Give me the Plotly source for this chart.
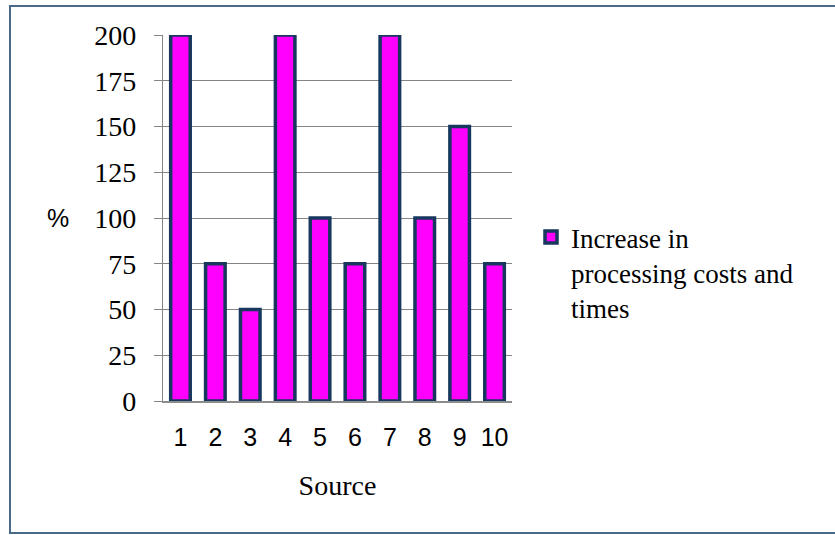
import plotly.graph_objects as go

sources = ["1", "2", "3", "4", "5", "6", "7", "8", "9", "10"]
increase_pct = [200, 75, 50, 200, 100, 75, 200, 100, 150, 75]
y_ticks = [0, 25, 50, 75, 100, 125, 150, 175, 200]
series_name = "Increase in<br>processing costs and<br>times"

serif = "Liberation Serif, Times New Roman, serif"
sans = "Liberation Sans, Arial, sans-serif"

fig = go.Figure()
fig.add_trace(go.Bar(
    x=sources,
    y=increase_pct,
    name=series_name,
    marker=dict(color="#FF00FF", line=dict(color="#17375E", width=3.5)),
    showlegend=True,
))

L, R, T, B = 163, 323, 35, 134
W, H = 835, 535
PW, PH = W - L - R, H - T - B

fig.update_layout(
    width=W, height=H,
    margin=dict(l=L, r=R, t=T, b=B),
    paper_bgcolor="white",
    plot_bgcolor="white",
    bargap=0.44,
    showlegend=True,
    legend=dict(
        x=(531 - L) / PW, y=1 - (213 - T) / PH,
        xanchor="left", yanchor="top",
        valign="top",
        font=dict(family=serif, size=27, color="black"),
        bgcolor="rgba(0,0,0,0)",
        itemwidth=30,
        tracegroupgap=0,
    ),
    xaxis=dict(
        type="category",
        showgrid=False,
        showline=True, linecolor="#8C8C8C", linewidth=1.5,
        ticks="", tickfont=dict(family=sans, size=25, color="black"),
        ticklabelstandoff=13,
        title=dict(text="Source", font=dict(family=serif, size=28, color="black"), standoff=26),
        fixedrange=True,
    ),
    yaxis=dict(
        range=[0, 200],
        tickvals=y_ticks,
        showgrid=True, gridcolor="#858585", gridwidth=1.2,
        showline=True, linecolor="#858585", linewidth=1.2,
        ticks="outside", ticklen=8, tickcolor="#858585", tickwidth=1.2,
        tickfont=dict(family=serif, size=28, color="black"),
        ticklabelstandoff=12,
        zeroline=False,
        fixedrange=True,
    ),
    shapes=[
        dict(type="rect", xref="paper", yref="paper",
             x0=(10 - L) / PW, x1=(840 - L) / PW,
             y0=1 - (533 - T) / PH, y1=1 - (6 - T) / PH,
             line=dict(color="#4A6A8A", width=2), fillcolor="rgba(0,0,0,0)", layer="below"),
    ],
    annotations=[
        dict(text="%", xref="paper", yref="paper",
             x=(58 - L) / PW, y=1 - (218 - T) / PH,
             xanchor="center", yanchor="middle", showarrow=False,
             font=dict(family=sans, size=25, color="black")),
    ],
)

fig.write_html("out.html")
